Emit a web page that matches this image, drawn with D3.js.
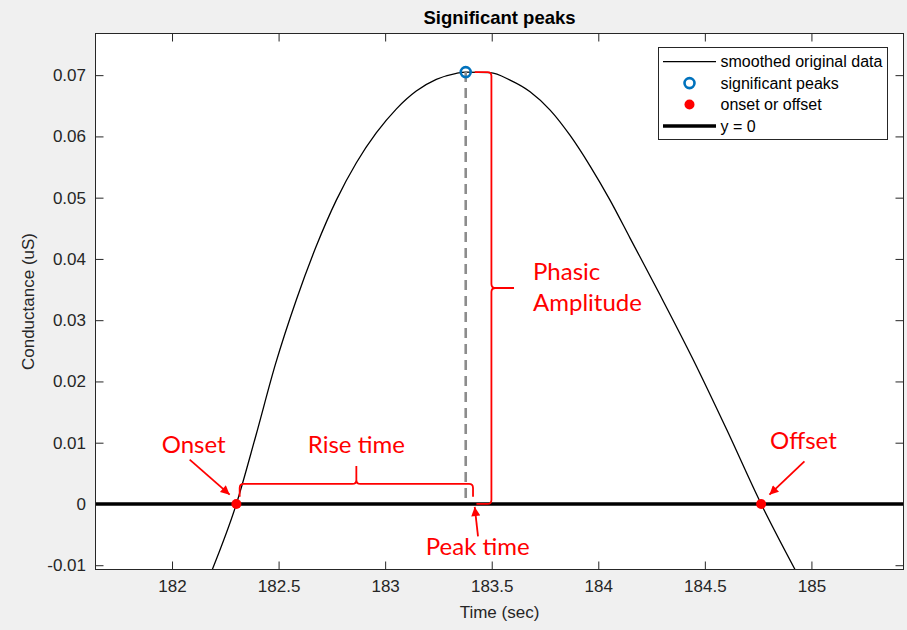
<!DOCTYPE html>
<html>
<head>
<meta charset="utf-8">
<script src="https://cdn.jsdelivr.net/npm/d3@7"></script>
<style>
  html, body { margin: 0; padding: 0; background: #f0f0f0; }
  svg { display: block; }
</style>
</head>
<body>
<svg id="chart" width="907" height="630"></svg>
<script>
// Smoothed skin-conductance trace around one phasic response
const timeSec = [182.189, 182.302, 182.393, 182.486, 182.583, 182.677, 182.771, 182.865, 182.959,
                 183.053, 183.146, 183.240, 183.334, 183.378, 183.492, 183.586, 183.680, 183.774,
                 183.867, 183.961, 184.055, 184.149, 184.290, 184.446, 184.603, 184.764, 184.923];
const conductance = [-0.0107, 0, 0.0111, 0.0229, 0.0333, 0.0421, 0.0496, 0.0557, 0.0606,
                     0.0645, 0.0674, 0.0693, 0.0703, 0.0705, 0.0704, 0.0692, 0.0673, 0.0643,
                     0.0602, 0.0552, 0.0496, 0.0434, 0.0341, 0.0235, 0.0121, 0, -0.0107];

// Detected events
const peakTime = [183.378];
const peakValue = [0.0705];
const onsetOffsetTime = [182.302, 184.764];
const onsetOffsetValue = [0, 0];

// Axis settings
const xDomain = [181.641, 185.432];
const yDomain = [-0.0107, 0.0768];
const xTicks = [182, 182.5, 183, 183.5, 184, 184.5, 185];
const yTicks = [-0.01, 0, 0.01, 0.02, 0.03, 0.04, 0.05, 0.06, 0.07];

const legendLabels = ["smoothed original data", "significant peaks", "onset or offset", "y = 0"];

const svg = d3.select("#chart");
const W = 907, H = 630;
const box = { left: 95.5, right: 903.5, top: 33.5, bottom: 569.5 };

const x = d3.scaleLinear().domain(xDomain).range([box.left, box.right]);
const y = d3.scaleLinear().domain(yDomain).range([box.bottom, box.top]);

const axisFont = '"Liberation Sans", Arial, Helvetica, sans-serif';
const noteFont = 'Lato, "Open Sans", sans-serif';
const axisColor = "#262626";
const red = "#ff0000";

svg.append("rect").attr("width", W).attr("height", H).attr("fill", "#f0f0f0");

// plot area
svg.append("rect")
  .attr("x", box.left).attr("y", box.top)
  .attr("width", box.right - box.left).attr("height", box.bottom - box.top)
  .attr("fill", "#ffffff");

svg.append("defs").append("clipPath").attr("id", "plotClip")
  .append("rect")
  .attr("x", box.left).attr("y", box.top)
  .attr("width", box.right - box.left).attr("height", box.bottom - box.top);

svg.select("defs").append("marker")
  .attr("id", "arrowHead")
  .attr("viewBox", "0 0 10 10")
  .attr("refX", 10).attr("refY", 5)
  .attr("markerUnits", "userSpaceOnUse")
  .attr("markerWidth", 11).attr("markerHeight", 9)
  .attr("orient", "auto")
  .append("path").attr("d", "M0,0 L10,5 L0,10 Z").attr("fill", red);

const tickFmt = d => (Math.abs(d) < 1e-12 ? "0" : String(+d.toFixed(3)));

// axes with inward ticks on all four sides
function styleAxis(g) {
  g.select(".domain").remove();
  g.selectAll(".tick line").attr("stroke", axisColor).attr("stroke-width", 1);
  g.selectAll(".tick text").attr("fill", axisColor)
    .style("font-family", axisFont).style("font-size", "17px");
}

svg.append("g").attr("transform", `translate(0,${box.bottom})`)
  .call(d3.axisBottom(x).tickValues(xTicks).tickSizeInner(-8).tickSizeOuter(0)
        .tickPadding(10).tickFormat(tickFmt))
  .call(styleAxis);
svg.append("g").attr("transform", `translate(0,${box.top})`)
  .call(d3.axisTop(x).tickValues(xTicks).tickSizeInner(-8).tickSizeOuter(0).tickFormat(""))
  .call(styleAxis);
svg.append("g").attr("transform", `translate(${box.left},0)`)
  .call(d3.axisLeft(y).tickValues(yTicks).tickSizeInner(-8).tickSizeOuter(0)
        .tickPadding(9.5).tickFormat(tickFmt))
  .call(styleAxis);
svg.append("g").attr("transform", `translate(${box.right},0)`)
  .call(d3.axisRight(y).tickValues(yTicks).tickSizeInner(-8).tickSizeOuter(0).tickFormat(""))
  .call(styleAxis);

const plot = svg.append("g").attr("clip-path", "url(#plotClip)");

// y = 0 reference line
plot.append("line")
  .attr("x1", box.left).attr("x2", box.right)
  .attr("y1", y(0)).attr("y2", y(0))
  .attr("stroke", "#000").attr("stroke-width", 3.5);

// smoothed trace
const series = timeSec.map((t, i) => [t, conductance[i]]);
plot.append("path")
  .datum(series)
  .attr("fill", "none").attr("stroke", "#000").attr("stroke-width", 1.3)
  .attr("d", d3.line().x(d => x(d[0])).y(d => y(d[1])).curve(d3.curveMonotoneX));

// dashed drop line from the peak
plot.append("line")
  .attr("x1", x(peakTime[0])).attr("x2", x(peakTime[0]))
  .attr("y1", y(peakValue[0])).attr("y2", y(0))
  .attr("stroke", "#8c8c8c").attr("stroke-width", 2.6).attr("stroke-dasharray", "10,6");

// annotation braces
const notes = svg.append("g").attr("fill", "none").attr("stroke", red).attr("stroke-width", 1.8);

function hBrace(x1, x2, yl, h, t) {
  const r = 4, xm = (x1 + x2) / 2;
  return `M${x1},${yl + h} L${x1},${yl + r} Q${x1},${yl} ${x1 + r},${yl} L${xm - r},${yl} ` +
         `Q${xm},${yl} ${xm},${yl - r} L${xm},${yl - t} M${xm},${yl - r} Q${xm},${yl} ${xm + r},${yl} ` +
         `L${x2 - r},${yl} Q${x2},${yl} ${x2},${yl + r} L${x2},${yl + h}`;
}
function vBrace(xl, y1, y2, w1, w2, t) {
  const r = 4, ym = (y1 + y2) / 2;
  return `M${xl - w1},${y1} L${xl - r},${y1} Q${xl},${y1} ${xl},${y1 + r} L${xl},${ym - r} ` +
         `Q${xl},${ym} ${xl + r},${ym} L${xl + t},${ym} M${xl + r},${ym} Q${xl},${ym} ${xl},${ym + r} ` +
         `L${xl},${y2 - r} Q${xl},${y2} ${xl - r},${y2} L${xl - w2},${y2}`;
}

const riseX1 = x(onsetOffsetTime[0]) + 3.3;
const riseX2 = x(peakTime[0]) + 7.3;
const riseY = y(0) - 20;
notes.append("path").attr("d", hBrace(riseX1, riseX2, riseY, 12.7, 18));

const ampX = x(peakTime[0]) + 25.7;
notes.append("path").attr("d", vBrace(ampX, y(peakValue[0]), y(0), 16.7, 15, 22.6));

// arrows pointing at onset, peak time and offset
function arrow(x1, y1, x2, y2) {
  notes.append("line")
    .attr("x1", x1).attr("y1", y1).attr("x2", x2).attr("y2", y2)
    .attr("marker-end", "url(#arrowHead)");
}
arrow(x(onsetOffsetTime[0]) - 46.7, y(0) - 44.3, x(onsetOffsetTime[0]) - 6.7, y(0) - 9.3);
arrow(x(peakTime[0]) + 12.3, y(0) + 32.4, x(peakTime[0]) + 9, y(0) + 3);
arrow(x(onsetOffsetTime[1]) + 43.3, y(0) - 42.6, x(onsetOffsetTime[1]) + 8.3, y(0) - 9.3);

// annotation labels
const labels = svg.append("g").attr("fill", red)
  .style("font-family", noteFont).style("font-size", "24px");
labels.append("text").attr("x", x(onsetOffsetTime[0]) - 42.7).attr("y", y(0) - 51)
  .attr("text-anchor", "middle").text("Onset");
labels.append("text").attr("x", (riseX1 + riseX2) / 2).attr("y", y(0) - 51)
  .attr("text-anchor", "middle").text("Rise time");
labels.append("text").attr("x", x(peakTime[0]) + 12).attr("y", y(0) + 51)
  .attr("text-anchor", "middle").text("Peak time");
labels.append("text").attr("x", x(onsetOffsetTime[1]) + 42.3).attr("y", y(0) - 55)
  .attr("text-anchor", "middle").text("Offset");
labels.append("text").attr("x", ampX + 41.6).attr("y", 280).text("Phasic");
labels.append("text").attr("x", ampX + 41.6).attr("y", 310.7).text("Amplitude");

// event markers
svg.append("g").selectAll("circle.onoff")
  .data(onsetOffsetTime.map((t, i) => [t, onsetOffsetValue[i]]))
  .join("circle").attr("class", "onoff")
  .attr("cx", d => x(d[0])).attr("cy", d => y(d[1])).attr("r", 5)
  .attr("fill", red);

svg.append("g").selectAll("circle.peak")
  .data(peakTime.map((t, i) => [t, peakValue[i]]))
  .join("circle").attr("class", "peak")
  .attr("cx", d => x(d[0])).attr("cy", d => y(d[1])).attr("r", 5)
  .attr("fill", "none").attr("stroke", "#0072bd").attr("stroke-width", 2.6);

// plot frame
svg.append("rect")
  .attr("x", box.left).attr("y", box.top)
  .attr("width", box.right - box.left).attr("height", box.bottom - box.top)
  .attr("fill", "none").attr("stroke", axisColor).attr("stroke-width", 1);

// legend
const lg = svg.append("g").attr("transform", "translate(658.5,47.5)");
lg.append("rect").attr("width", 229).attr("height", 92)
  .attr("fill", "#fff").attr("stroke", axisColor).attr("stroke-width", 1);
const rowY = i => 14.2 + i * 21.4;
const sampleX1 = 4.5, sampleX2 = 57.5, textX = 62;
lg.append("line").attr("x1", sampleX1).attr("x2", sampleX2).attr("y1", rowY(0)).attr("y2", rowY(0))
  .attr("stroke", "#000").attr("stroke-width", 1.3);
lg.append("circle").attr("cx", (sampleX1 + sampleX2) / 2).attr("cy", rowY(1)).attr("r", 5)
  .attr("fill", "none").attr("stroke", "#0072bd").attr("stroke-width", 2.6);
lg.append("circle").attr("cx", (sampleX1 + sampleX2) / 2).attr("cy", rowY(2)).attr("r", 5)
  .attr("fill", red);
lg.append("line").attr("x1", sampleX1).attr("x2", sampleX2).attr("y1", rowY(3)).attr("y2", rowY(3))
  .attr("stroke", "#000").attr("stroke-width", 3.5);
lg.selectAll("text.lab").data(legendLabels).join("text").attr("class", "lab")
  .attr("x", textX).attr("y", (d, i) => rowY(i)).attr("dy", "0.35em")
  .attr("fill", "#000")
  .style("font-family", axisFont).style("font-size", "16px")
  .text(d => d);

// titles
const cx = (box.left + box.right) / 2;
svg.append("text").attr("x", cx).attr("y", 23.5).attr("text-anchor", "middle")
  .attr("fill", "#000").style("font-family", axisFont).style("font-size", "18.5px")
  .style("font-weight", "bold").text("Significant peaks");
svg.append("text").attr("x", cx).attr("y", 618).attr("text-anchor", "middle")
  .attr("fill", axisColor).style("font-family", axisFont).style("font-size", "17px")
  .text("Time (sec)");
svg.append("text")
  .attr("transform", `translate(34,${(box.top + box.bottom) / 2}) rotate(-90)`)
  .attr("text-anchor", "middle")
  .attr("fill", axisColor).style("font-family", axisFont).style("font-size", "17px")
  .text("Conductance (uS)");
</script>
</body>
</html>
